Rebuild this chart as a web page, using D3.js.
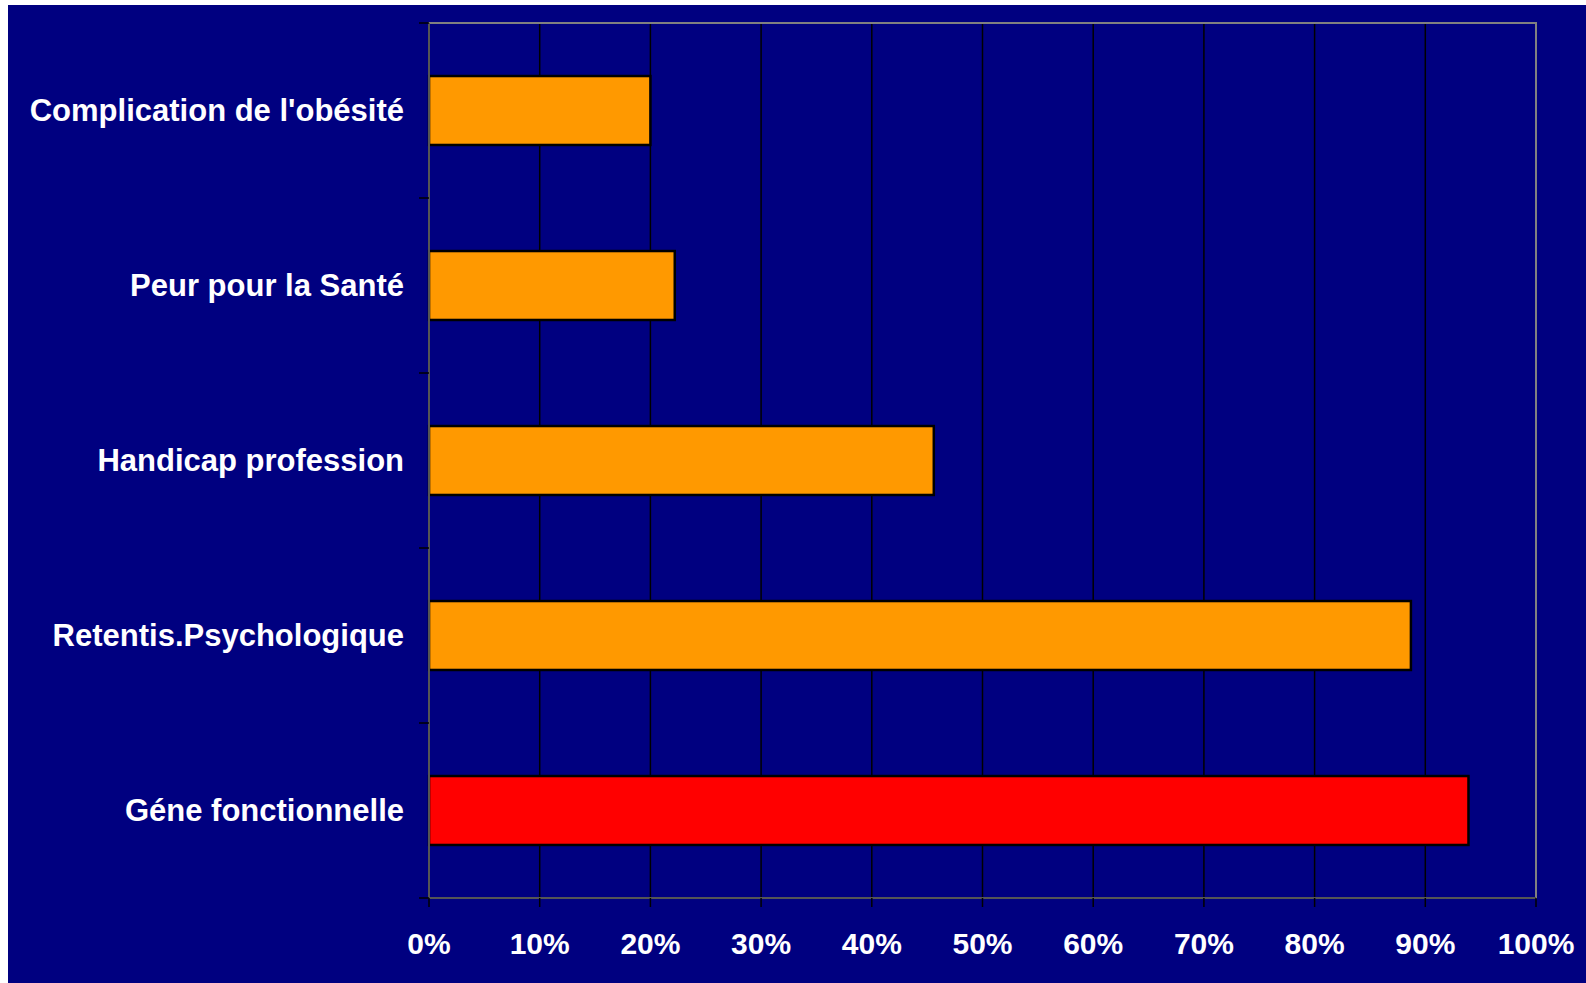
<!DOCTYPE html>
<html>
<head>
<meta charset="utf-8">
<script src="https://cdn.jsdelivr.net/npm/d3@7"></script>
<style>
  html, body { margin: 0; padding: 0; background: #ffffff; }
  svg { display: block; }
  text { font-family: Arial, "Liberation Sans", sans-serif; font-weight: bold; fill: #ffffff; }
</style>
</head>
<body>
<svg id="chart" width="1586" height="983"></svg>
<script>
// Categories, top to bottom
const categories = [
  "Complication de l'obésité",
  "Peur pour la Santé",
  "Handicap profession",
  "Retentis.Psychologique",
  "Géne fonctionnelle"
];
// Share of respondents (%)
const values = [20, 22.2, 45.6, 88.7, 93.9];
const barColors = ["#ff9900", "#ff9900", "#ff9900", "#ff9900", "#ff0000"];
const xTicks = [0, 10, 20, 30, 40, 50, 60, 70, 80, 90, 100];

const svg = d3.select("#chart");
const W = 1586, H = 983;

// navy panel
svg.append("rect").attr("x", 8).attr("y", 5).attr("width", W - 8).attr("height", H - 5)
  .attr("fill", "#000080");

const plot = { left: 429, right: 1536, top: 23, bottom: 898 };

const x = d3.scaleLinear().domain([0, 100]).range([plot.left, plot.right]);
const y = d3.scaleBand().domain(categories).range([plot.top, plot.bottom]).paddingInner(0.606).paddingOuter(0.303);
const yOuter = d3.scaleBand().domain(categories).range([plot.top, plot.bottom]);

// vertical gridlines
svg.append("g").selectAll("line").data(xTicks.slice(1, -1)).join("line")
  .attr("x1", d => x(d)).attr("x2", d => x(d))
  .attr("y1", plot.top).attr("y2", plot.bottom)
  .attr("stroke", "#000000").attr("stroke-width", 1.5);

// plot frame
svg.append("rect").attr("x", plot.left).attr("y", plot.top)
  .attr("width", plot.right - plot.left).attr("height", plot.bottom - plot.top)
  .attr("fill", "none").attr("stroke", "#808080").attr("stroke-width", 2);

// bars
svg.append("g").selectAll("rect").data(categories).join("rect")
  .attr("x", x(0))
  .attr("y", d => y(d))
  .attr("width", (d, i) => x(values[i]) - x(0))
  .attr("height", y.bandwidth())
  .attr("fill", (d, i) => barColors[i])
  .attr("stroke", "#000000").attr("stroke-width", 2.5);

// axis lines
svg.append("line").attr("x1", plot.left).attr("x2", plot.left).attr("y1", plot.top).attr("y2", plot.bottom)
  .attr("stroke", "#555555").attr("stroke-width", 2);
svg.append("line").attr("x1", plot.left).attr("x2", plot.right).attr("y1", plot.bottom).attr("y2", plot.bottom)
  .attr("stroke", "#555555").attr("stroke-width", 2);

// y ticks at category boundaries
const yBounds = categories.map(c => yOuter(c)).concat([plot.bottom]);
svg.append("g").selectAll("line").data(yBounds).join("line")
  .attr("x1", plot.left - 10).attr("x2", plot.left)
  .attr("y1", d => d).attr("y2", d => d)
  .attr("stroke", "#000000").attr("stroke-width", 1.5);

// x ticks
svg.append("g").selectAll("line").data(xTicks).join("line")
  .attr("x1", d => x(d)).attr("x2", d => x(d))
  .attr("y1", plot.bottom).attr("y2", plot.bottom + 9)
  .attr("stroke", "#000000").attr("stroke-width", 1.5);

// x tick labels
svg.append("g").selectAll("text").data(xTicks).join("text")
  .attr("x", d => x(d)).attr("y", 954)
  .attr("text-anchor", "middle")
  .attr("font-size", 30)
  .text(d => d + "%");

// category labels
svg.append("g").selectAll("text").data(categories).join("text")
  .attr("x", plot.left - 25)
  .attr("y", d => yOuter(d) + yOuter.bandwidth() / 2 + 10)
  .attr("text-anchor", "end")
  .attr("font-size", 31)
  .text(d => d);
</script>
</body>
</html>
